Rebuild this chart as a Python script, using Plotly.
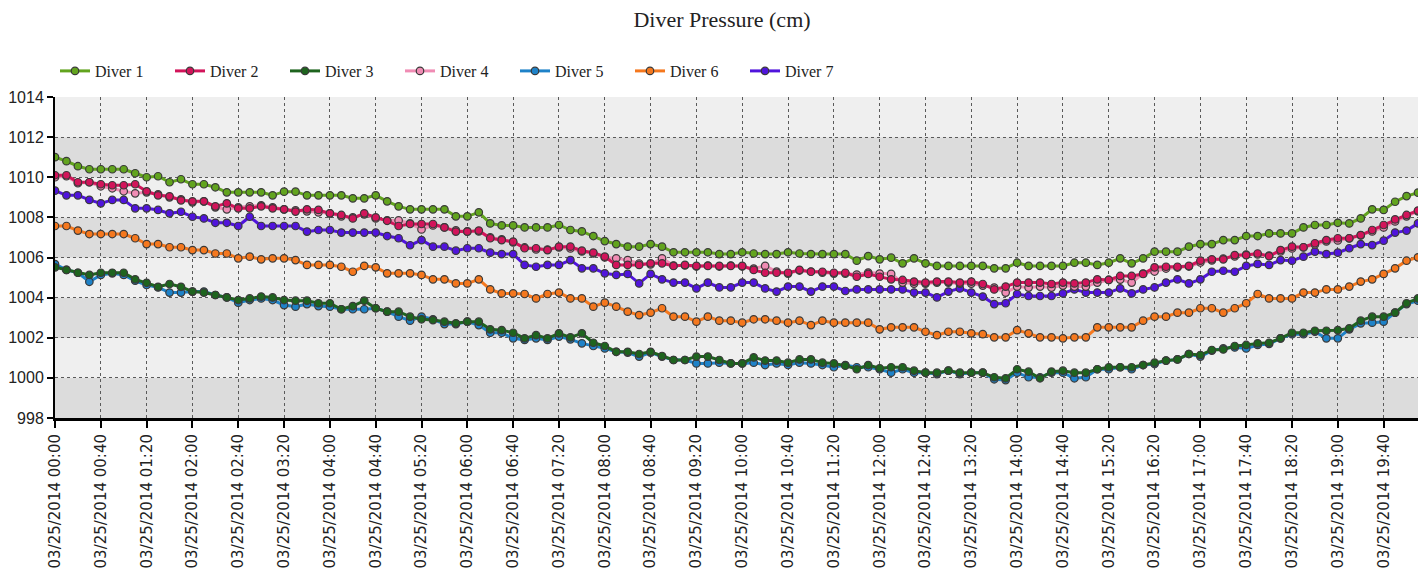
import plotly.graph_objects as go
from datetime import datetime, timedelta

# Sample times: 10-minute readings, with a gap after 15:50 (next reading at 16:20)
first_block_start = datetime(2014, 3, 25, 0, 0)
first_block_count = 96
second_block_start = datetime(2014, 3, 25, 16, 20)
second_block_count = 24
step = timedelta(minutes=10)

times = ([first_block_start + k * step for k in range(first_block_count)]
         + [second_block_start + k * step for k in range(second_block_count)])
time_labels = [t.strftime("%m/%d/%Y %H:%M") for t in times]
tick_labels = time_labels[::4]

diver_1 = [
    1011.0, 1010.8, 1010.55, 1010.4, 1010.4, 1010.4, 1010.4, 1010.2, 1010.0, 1010.05,
    1009.75, 1009.9, 1009.65, 1009.65, 1009.5, 1009.25, 1009.25, 1009.25, 1009.25, 1009.1,
    1009.28, 1009.28, 1009.1, 1009.1, 1009.1, 1009.1, 1008.95, 1008.95, 1009.1, 1008.8,
    1008.55, 1008.4, 1008.4, 1008.4, 1008.4, 1008.05, 1008.05, 1008.25, 1007.7, 1007.6,
    1007.6, 1007.5, 1007.5, 1007.5, 1007.62, 1007.37, 1007.3, 1007.07, 1006.82, 1006.67,
    1006.54, 1006.54, 1006.67, 1006.54, 1006.26, 1006.26, 1006.26, 1006.26, 1006.17, 1006.17,
    1006.26, 1006.2, 1006.17, 1006.17, 1006.26, 1006.2, 1006.17, 1006.17, 1006.17, 1006.17,
    1005.84, 1006.07, 1005.91, 1005.99, 1005.71, 1005.96, 1005.71, 1005.58, 1005.58, 1005.58,
    1005.58, 1005.58, 1005.46, 1005.46, 1005.74, 1005.58, 1005.58, 1005.58, 1005.58, 1005.74,
    1005.74, 1005.63, 1005.74, 1005.96, 1005.71, 1005.96, 1006.29, 1006.29, 1006.29, 1006.54,
    1006.67, 1006.67, 1006.87, 1006.87, 1007.07, 1007.07, 1007.2, 1007.2, 1007.2, 1007.5,
    1007.62, 1007.62, 1007.73, 1007.7, 1007.95, 1008.4, 1008.37, 1008.78, 1009.06, 1009.23,
]

diver_2 = [
    1010.1, 1010.1, 1009.75, 1009.75, 1009.65, 1009.6, 1009.6, 1009.65, 1009.3, 1009.1,
    1009.05, 1008.85, 1008.8, 1008.8, 1008.55, 1008.7, 1008.45, 1008.45, 1008.55, 1008.45,
    1008.4, 1008.29, 1008.4, 1008.37, 1008.2, 1008.12, 1007.95, 1008.2, 1008.0, 1007.83,
    1007.57, 1007.67, 1007.67, 1007.67, 1007.5, 1007.29, 1007.29, 1007.34, 1006.96, 1006.87,
    1006.79, 1006.46, 1006.46, 1006.37, 1006.54, 1006.54, 1006.34, 1006.24, 1006.04, 1005.63,
    1005.63, 1005.63, 1005.71, 1005.71, 1005.58, 1005.63, 1005.58, 1005.58, 1005.58, 1005.58,
    1005.58, 1005.38, 1005.24, 1005.24, 1005.24, 1005.38, 1005.29, 1005.29, 1005.24, 1005.24,
    1005.04, 1005.18, 1005.04, 1004.91, 1004.88, 1004.8, 1004.75, 1004.8, 1004.8, 1004.75,
    1004.8, 1004.68, 1004.41, 1004.55, 1004.75, 1004.75, 1004.75, 1004.68, 1004.75, 1004.71,
    1004.75, 1004.91, 1004.88, 1005.08, 1005.08, 1005.18, 1005.51, 1005.54, 1005.54, 1005.58,
    1005.84, 1005.91, 1005.91, 1006.12, 1006.12, 1006.2, 1006.07, 1006.37, 1006.54, 1006.51,
    1006.71, 1006.87, 1006.96, 1006.96, 1007.12, 1007.37, 1007.62, 1007.9, 1008.12, 1008.34,
]

diver_3 = [
    1005.51, 1005.38, 1005.24, 1005.13, 1005.24, 1005.24, 1005.24, 1004.91, 1004.74, 1004.54,
    1004.68, 1004.54, 1004.3, 1004.25, 1004.13, 1004.01, 1003.88, 1003.96, 1004.05, 1004.01,
    1003.88, 1003.85, 1003.85, 1003.72, 1003.72, 1003.42, 1003.58, 1003.85, 1003.47, 1003.3,
    1003.3, 1003.05, 1002.92, 1002.88, 1002.8, 1002.72, 1002.8, 1002.8, 1002.42, 1002.38,
    1002.25, 1001.97, 1002.13, 1001.97, 1002.22, 1002.02, 1002.22, 1001.75, 1001.59, 1001.3,
    1001.3, 1001.19, 1001.3, 1001.09, 1000.89, 1000.89, 1001.06, 1001.06, 1000.89, 1000.72,
    1000.72, 1001.02, 1000.86, 1000.86, 1000.76, 1000.92, 1000.92, 1000.76, 1000.72, 1000.61,
    1000.43, 1000.64, 1000.48, 1000.53, 1000.53, 1000.36, 1000.26, 1000.26, 1000.36, 1000.26,
    1000.26, 1000.26, 1000.03, 999.98, 1000.43, 1000.31, 999.98, 1000.31, 1000.36, 1000.26,
    1000.26, 1000.43, 1000.53, 1000.53, 1000.53, 1000.64, 1000.76, 1000.86, 1000.92, 1001.19,
    1001.14, 1001.39, 1001.42, 1001.59, 1001.64, 1001.72, 1001.75, 1001.97, 1002.25, 1002.25,
    1002.35, 1002.35, 1002.38, 1002.47, 1002.85, 1003.05, 1003.05, 1003.25, 1003.72, 1003.96,
]

diver_4 = [
    1010.0, 1010.05, 1009.7, 1009.75, 1009.55, 1009.45, 1009.3, 1009.2, 1009.25, 1009.15,
    1009.0, 1008.9, 1008.75, 1008.8, 1008.5, 1008.4, 1008.5, 1008.55, 1008.6, 1008.5,
    1008.4, 1008.35, 1008.3, 1008.25, 1008.2, 1008.05, 1008.0, 1008.15, 1007.95, 1007.85,
    1007.85, 1007.7, 1007.4, 1007.6, 1007.5, 1007.35, 1007.3, 1007.3, 1007.0, 1006.9,
    1006.75, 1006.5, 1006.4, 1006.4, 1006.5, 1006.45, 1006.3, 1006.2, 1006.0, 1005.96,
    1005.87, 1005.7, 1005.65, 1005.96, 1005.6, 1005.6, 1005.55, 1005.6, 1005.55, 1005.6,
    1005.55, 1005.45, 1005.58, 1005.3, 1005.2, 1005.35, 1005.3, 1005.25, 1005.2, 1005.2,
    1005.15, 1005.25, 1005.2, 1005.18, 1004.75, 1004.7, 1004.7, 1004.75, 1004.75, 1004.7,
    1004.7, 1004.6, 1004.5, 1004.25, 1004.55, 1004.5, 1004.55, 1004.5, 1004.6, 1004.55,
    1004.55, 1004.75, 1004.88, 1004.9, 1004.75, 1005.2, 1005.3, 1005.45, 1005.5, 1005.55,
    1005.75, 1005.85, 1005.95, 1006.05, 1006.15, 1006.15, 1006.1, 1006.3, 1006.45, 1006.5,
    1006.65, 1006.8, 1006.85, 1006.95, 1007.1, 1007.3, 1007.5, 1007.8, 1008.05, 1008.3,
]

diver_5 = [
    1005.67, 1005.38, 1005.24, 1004.79, 1005.13, 1005.21, 1005.13, 1004.84, 1004.63, 1004.51,
    1004.25, 1004.25, 1004.3, 1004.3, 1004.13, 1004.01, 1003.75, 1003.88, 1003.96, 1003.88,
    1003.63, 1003.55, 1003.68, 1003.58, 1003.55, 1003.42, 1003.42, 1003.42, 1003.47, 1003.3,
    1003.05, 1002.85, 1003.05, 1002.92, 1002.68, 1002.68, 1002.8, 1002.63, 1002.25, 1002.25,
    1001.97, 1001.89, 1001.97, 1001.89, 1002.06, 1001.92, 1001.72, 1001.59, 1001.47, 1001.3,
    1001.26, 1001.06, 1001.26, 1001.06, 1000.89, 1000.89, 1000.72, 1000.72, 1000.76, 1000.72,
    1000.72, 1000.76, 1000.64, 1000.72, 1000.64, 1000.76, 1000.72, 1000.64, 1000.53, 1000.64,
    1000.53, 1000.53, 1000.43, 1000.26, 1000.43, 1000.26, 1000.26, 1000.19, 1000.36, 1000.19,
    1000.26, 1000.26, 999.93, 999.89, 1000.26, 1000.03, 1000.03, 1000.26, 1000.26, 999.98,
    1000.03, 1000.43, 1000.43, 1000.53, 1000.43, 1000.64, 1000.69, 1000.86, 1000.92, 1001.19,
    1001.06, 1001.36, 1001.47, 1001.52, 1001.47, 1001.64, 1001.69, 1001.97, 1002.18, 1002.18,
    1002.3, 1001.97, 1001.97, 1002.42, 1002.72, 1002.75, 1002.8, 1003.25, 1003.68, 1003.85,
]

diver_6 = [
    1007.57, 1007.57, 1007.34, 1007.17, 1007.17, 1007.17, 1007.17, 1006.96, 1006.67, 1006.67,
    1006.51, 1006.51, 1006.37, 1006.37, 1006.2, 1006.2, 1005.96, 1006.04, 1005.91, 1005.96,
    1005.96, 1005.87, 1005.63, 1005.63, 1005.63, 1005.54, 1005.29, 1005.58, 1005.51, 1005.21,
    1005.21, 1005.21, 1005.13, 1004.91, 1004.91, 1004.71, 1004.71, 1004.91, 1004.41, 1004.21,
    1004.21, 1004.18, 1003.96, 1004.18, 1004.25, 1003.96, 1003.96, 1003.55, 1003.75, 1003.55,
    1003.3, 1003.13, 1003.25, 1003.47, 1003.05, 1003.05, 1002.8, 1003.05, 1002.85, 1002.85,
    1002.75, 1002.92, 1002.92, 1002.85, 1002.75, 1002.85, 1002.63, 1002.85, 1002.75, 1002.75,
    1002.75, 1002.75, 1002.42, 1002.52, 1002.52, 1002.52, 1002.3, 1002.13, 1002.3, 1002.3,
    1002.22, 1002.18, 1002.02, 1002.02, 1002.38, 1002.22, 1002.02, 1002.02, 1001.97, 1002.02,
    1002.02, 1002.52, 1002.52, 1002.52, 1002.52, 1002.85, 1003.05, 1003.05, 1003.25, 1003.25,
    1003.47, 1003.47, 1003.25, 1003.47, 1003.72, 1004.18, 1003.96, 1003.96, 1003.96, 1004.25,
    1004.25, 1004.41, 1004.41, 1004.55, 1004.8, 1004.91, 1005.18, 1005.46, 1005.84, 1006.01,
]

diver_7 = [
    1009.33, 1009.1, 1009.1, 1008.87, 1008.7, 1008.87, 1008.87, 1008.45, 1008.45, 1008.37,
    1008.2, 1008.28, 1008.03, 1007.95, 1007.73, 1007.73, 1007.57, 1008.03, 1007.57, 1007.57,
    1007.57, 1007.57, 1007.29, 1007.37, 1007.37, 1007.24, 1007.24, 1007.24, 1007.24, 1007.07,
    1006.96, 1006.61, 1006.87, 1006.54, 1006.54, 1006.34, 1006.46, 1006.46, 1006.24, 1006.17,
    1006.17, 1005.63, 1005.54, 1005.63, 1005.63, 1005.87, 1005.46, 1005.46, 1005.21, 1005.13,
    1005.18, 1004.71, 1005.18, 1004.91, 1004.75, 1004.75, 1004.46, 1004.75, 1004.51, 1004.51,
    1004.75, 1004.75, 1004.46, 1004.3, 1004.55, 1004.55, 1004.3, 1004.55, 1004.55, 1004.33,
    1004.41, 1004.41, 1004.41, 1004.41, 1004.41, 1004.25, 1004.25, 1004.01, 1004.3, 1004.46,
    1004.25, 1004.05, 1003.68, 1003.72, 1004.18, 1004.08, 1004.08, 1004.08, 1004.21, 1004.41,
    1004.25, 1004.25, 1004.25, 1004.46, 1004.21, 1004.41, 1004.51, 1004.75, 1004.91, 1004.71,
    1004.91, 1005.29, 1005.34, 1005.29, 1005.58, 1005.68, 1005.63, 1005.87, 1005.84, 1006.04,
    1006.29, 1006.17, 1006.24, 1006.46, 1006.67, 1006.62, 1006.84, 1007.24, 1007.34, 1007.7,
]

series_names = ["Diver 1", "Diver 2", "Diver 3", "Diver 4", "Diver 5", "Diver 6", "Diver 7"]
series_values = [diver_1, diver_2, diver_3, diver_4, diver_5, diver_6, diver_7]
series_colors = ["#62A41E", "#D2145A", "#1E641E", "#F08CB4", "#1E82C8", "#F5781E", "#5014DC"]

y_min, y_max, y_step = 998, 1014, 2

fig = go.Figure()

# later divers are drawn first so earlier ones sit on top
for name, vals, color in reversed(list(zip(series_names, series_values, series_colors))):
    fig.add_trace(go.Scatter(
        x=time_labels, y=vals, name=name, mode="lines+markers",
        line=dict(color=color, width=3),
        marker=dict(symbol="circle", size=7.5, color=color,
                    line=dict(color="#3a3a3a", width=1.2)),
    ))

# alternating horizontal bands behind the grid
shapes = []
for k, lo in enumerate(range(y_min, y_max, y_step)):
    shapes.append(dict(
        type="rect", xref="paper", yref="y", x0=0, x1=1, y0=lo, y1=lo + y_step,
        fillcolor="#DCDCDC" if k % 2 == 0 else "#EFEFEF",
        line=dict(width=0), layer="below",
    ))

fig.update_layout(
    width=1419, height=577,
    margin=dict(l=55, r=1, t=97, b=159),
    paper_bgcolor="white", plot_bgcolor="#EFEFEF",
    shapes=shapes,
    title=dict(text="Diver Pressure (cm)", x=722 / 1419, xref="container", xanchor="center",
               y=1 - 19 / 577, yref="container", yanchor="middle",
               font=dict(family="Liberation Serif", size=22, color="#222222")),
    legend=dict(orientation="h", traceorder="reversed",
                x=0.0, xanchor="left", xref="paper",
                y=1.081, yanchor="middle",
                font=dict(family="Liberation Serif", size=16, color="#222222"),
                entrywidth=70, entrywidthmode="pixels",
                bgcolor="rgba(0,0,0,0)"),
    showlegend=True,
)

fig.update_xaxes(
    type="category", range=[0, len(time_labels) - 1],
    tickmode="array", tickvals=tick_labels, ticktext=tick_labels,
    tickangle=-90, ticks="outside", ticklen=7, tickwidth=1.5, tickcolor="black",
    tickfont=dict(family="DejaVu Sans", size=15, color="#222222"),
    showgrid=True, gridcolor="#5a5a5a", gridwidth=1, griddash="dot",
    showline=True, linecolor="black", linewidth=3,
    zeroline=False,
)
fig.update_yaxes(
    range=[y_min, y_max], tick0=y_min, dtick=y_step,
    ticks="outside", ticklen=6, tickwidth=1.5, tickcolor="black",
    tickfont=dict(family="Liberation Sans", size=16, color="#222222"),
    showgrid=True, gridcolor="#5a5a5a", gridwidth=1, griddash="dot",
    showline=True, linecolor="black", linewidth=2,
    zeroline=False,
)

fig.write_html("out.html")
